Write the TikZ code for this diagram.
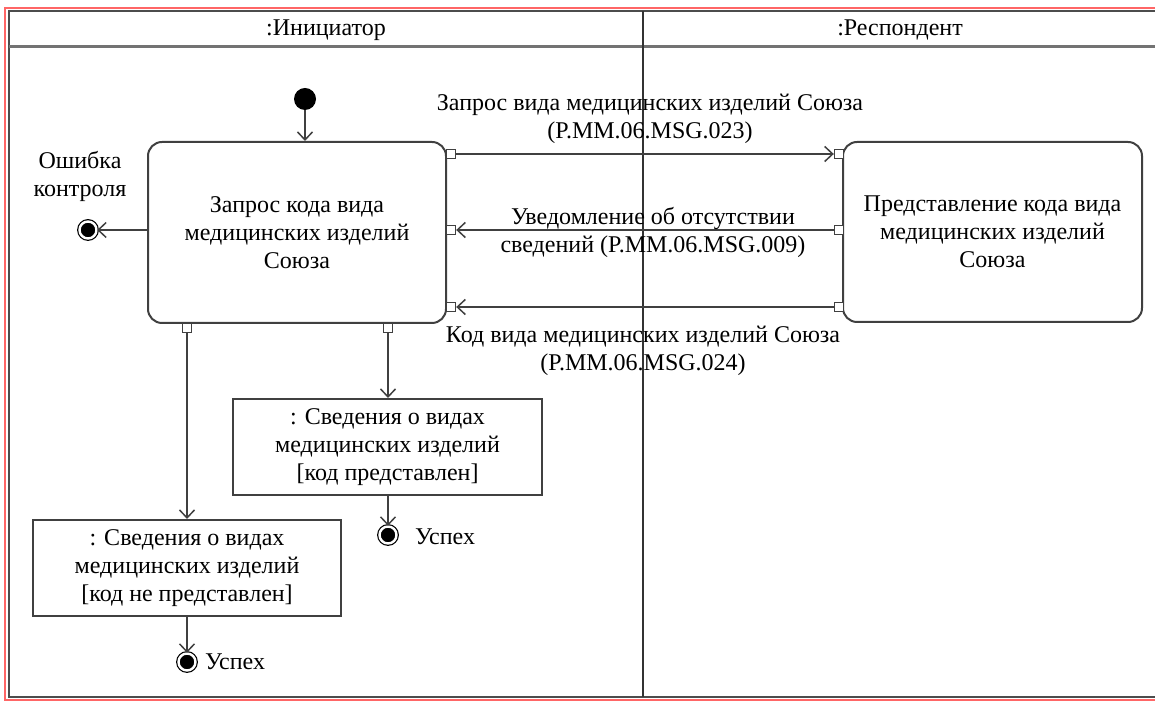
\documentclass[tikz,border=0pt]{standalone}
\usepackage{fontspec}
\setmainfont{Liberation Serif}
\usetikzlibrary{arrows.meta,positioning,calc}
\tikzset{
  action/.style  = {shape=rectangle, rounded corners=7pt, draw=black!75,
                    line width=1pt, align=center, fill=white},
  objnode/.style = {shape=rectangle, draw=black!75, line width=1pt,
                    align=center, fill=white},
  pinbox/.style  = {shape=rectangle, draw=black!75, line width=0.7pt,
                    fill=white, minimum size=4.5pt, inner sep=0pt},
  startnode/.style = {circle, fill=black, minimum size=11pt, inner sep=0pt},
  endnode/.style   = {circle, draw=black, fill=black, minimum size=8.5pt,
                      inner sep=0pt, line width=0.6pt,
                      double=white, double distance=1.2pt},
  msg/.style     = {align=center, font=\fontsize{12}{14}\selectfont},
  flow/.style    = {draw=black!75, line width=0.75pt,
                    -{Straight Barb[length=4pt,width=7.5pt]}}
}
\begin{document}
\begin{tikzpicture}[x=0.5pt,y=-0.5pt,font=\fontsize{12}{14}\selectfont]
\useasboundingbox (0,0) rectangle (1155,704);
% frame and swimlanes
\draw[red!60, line width=1pt] (5,8) rectangle (1165,700);
\draw[black!70, line width=1.2pt] (9,11) rectangle (1165,697);
\draw[black!55, line width=1.5pt] (9,47) -- (1155,47);
\draw[black!80, line width=0.8pt] (643,11) -- (643,697);
\node (lane1) at (326,30) {:Инициатор};
\node (lane2) at (900,30) {:Респондент};
% actions
\node [action, minimum width=149pt, minimum height=90.5pt] (req) at (297,232.5)
  {Запрос кода вида\\медицинских изделий\\Союза};
\node [action, minimum width=149.5pt, minimum height=90pt] (resp) at (992.5,232)
  {Представление кода вида\\медицинских изделий\\Союза};
\node [objnode, minimum width=154.5pt, minimum height=48pt] (okobj) at (387.5,447)
  {: Сведения о видах\\медицинских изделий\\{[}код представлен{]}};
\node [objnode, minimum width=154pt, minimum height=48pt] (noobj) at (187,568)
  {: Сведения о видах\\медицинских изделий\\{[}код не представлен{]}};
% start / end
\node [startnode] (start) at (305,99) {};
\node [endnode] (errend) at (88,230) {};
\node [endnode] (okend) at (388,535) {};
\node [endnode] (noend) at (187,662) {};
\node [msg] (errlbl) at (80,176) {Ошибка\\контроля};
\node [anchor=west] (oklbl) at (408,537) {Успех};
\node [anchor=west] (nolbl) at (198,662) {Успех};
% pins
\node [pinbox] (reqout) at (451,154) {};
\node [pinbox] (reqin1) at (451,230) {};
\node [pinbox] (reqin2) at (451,307) {};
\node [pinbox] (respin) at (839,154) {};
\node [pinbox] (respout1) at (839,230) {};
\node [pinbox] (respout2) at (839,307) {};
\node [pinbox] (reqok) at (388,328) {};
\node [pinbox] (reqno) at (187,328) {};
% flows
\draw [flow] (start) -- (req.north -| start);
\draw [flow] (req.west |- errend) -- (errend);
\draw [flow] (reqout) -- (respin);
\draw [flow] (respout1) -- (reqin1);
\draw [flow] (respout2) -- (reqin2);
\draw [flow] (reqok) -- (okobj.north -| reqok);
\draw [flow] (reqno) -- (noobj.north -| reqno);
\draw [flow] (okobj.south -| okend) -- (okend);
\draw [flow] (noobj.south -| noend) -- (noend);
% messages
\node [msg] (m1) at (650,119) {Запрос вида медицинских изделий Союза\\(P.MM.06.MSG.023)};
\node [msg] (m2) at (653,232) {Уведомление об отсутствии\\сведений (P.MM.06.MSG.009)};
\node [msg] (m3) at (643,351) {Код вида медицинских изделий Союза\\(P.MM.06.MSG.024)};
\end{tikzpicture}
\end{document}
